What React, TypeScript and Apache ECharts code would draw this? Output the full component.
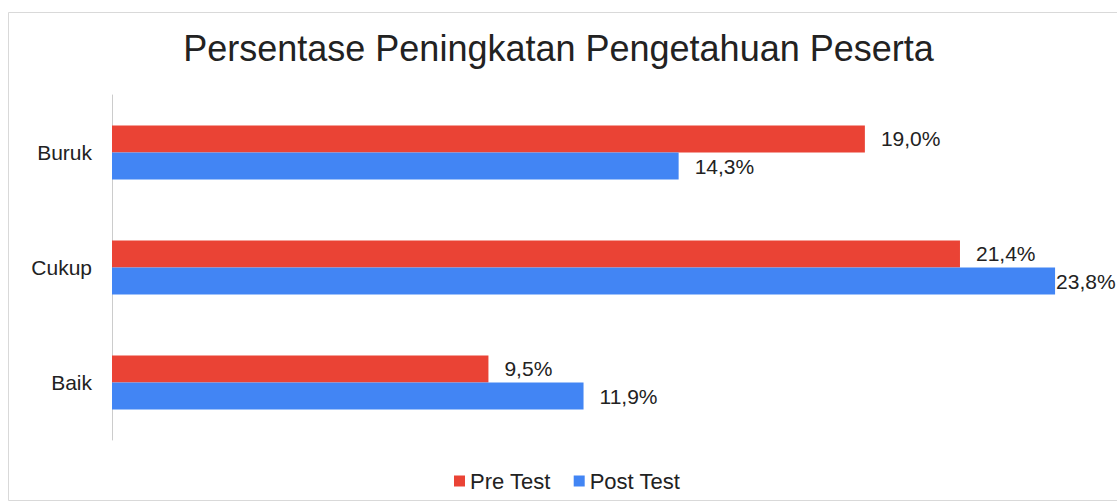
import React, { useEffect, useRef } from "react";
import * as echarts from "echarts";

const categories = ["Buruk", "Cukup", "Baik"];
const preTest = [19.0, 21.4, 9.5];
const postTest = [14.3, 23.8, 11.9];
const seriesNames = ["Pre Test", "Post Test"];
const titleText = "Persentase Peningkatan Pengetahuan Peserta";

const fmt = (v: number) => v.toFixed(1).replace(".", ",") + "%";

export default function App() {
  const ref = useRef<HTMLDivElement>(null);
  useEffect(() => {
    if (!ref.current) return;
    const chart = echarts.init(ref.current, undefined, { renderer: "svg" });
    const font = "Liberation Sans, Arial, sans-serif";
    const labelStyle = {
      show: true,
      position: "right" as const,
      distance: 16,
      fontSize: 21,
      fontFamily: font,
      color: "#222",
      formatter: (p: any) => fmt(p.value),
    };
    chart.setOption({
      animation: false,
      backgroundColor: "#fff",
      graphic: [
        {
          type: "rect",
          shape: { x: 8.5, y: 12.5, width: 1120, height: 488 },
          style: { fill: "none", stroke: "#d9d9d9", lineWidth: 1 },
          silent: true,
        },
      ],
      title: {
        text: titleText,
        left: "center",
        top: 25,
        textStyle: { fontSize: 36, fontWeight: "normal", color: "#222", fontFamily: font },
      },
      legend: {
        top: 465,
        left: 449,
        icon: "rect",
        itemWidth: 11,
        itemHeight: 11,
        itemGap: 23,
        textStyle: { fontSize: 22, color: "#222", fontFamily: font },
        data: seriesNames,
      },
      grid: { left: 112, right: 54, top: 95, bottom: 64, containLabel: false },
      xAxis: {
        type: "value",
        min: 0,
        max: 24,
        show: false,
      },
      yAxis: {
        type: "category",
        data: categories,
        inverse: true,
        axisLine: { lineStyle: { color: "#cccccc" } },
        axisTick: { show: false },
        axisLabel: { fontSize: 21, color: "#222", fontFamily: font, margin: 20 },
      },
      series: [
        {
          name: seriesNames[0],
          type: "bar",
          data: preTest,
          itemStyle: { color: "#EA4335" },
          barGap: "0%",
          barCategoryGap: "53%",
          label: labelStyle,
        },
        {
          name: seriesNames[1],
          type: "bar",
          data: postTest.map((v, i) =>
            i === 1 ? { value: v, label: { distance: 1 } } : v
          ),
          itemStyle: { color: "#4285F4" },
          barGap: "0%",
          barCategoryGap: "53%",
          label: labelStyle,
        },
      ],
    });
    return () => chart.dispose();
  }, []);
  return (
    <div
      ref={ref}
      style={{ position: "fixed", left: 0, top: 0, width: 1117, height: 504 }}
    />
  );
}
